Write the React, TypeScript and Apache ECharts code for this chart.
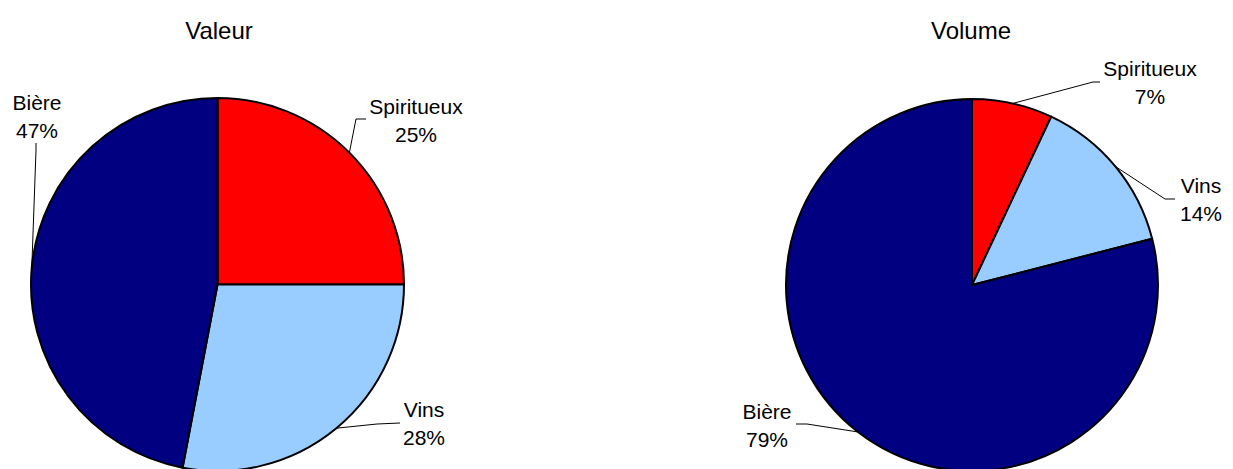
import React, { useEffect, useRef } from "react";
import * as echarts from "echarts";

const categories = ["Spiritueux", "Vins", "Bière"];
const valeurValues = [25, 28, 47];
const volumeValues = [7, 14, 79];
const titles = ["Valeur", "Volume"];
const colors = ["#FF0000", "#99CCFF", "#000080"];

// layout (style only)
const FONT = "'Liberation Sans', Arial, Helvetica, sans-serif";
const pieLayout = [
  { center: [217.5, 284.5], radius: 186.5, titleX: 214 },
  { center: [972, 285], radius: 186, titleX: 966 },
];
// label centers [x, y] and leader bend offsets, per pie, per slice
const labelPlacement = [
  [
    { x: 416, y: 120, end: [366, 119], bend: [356, 119] },
    { x: 424, y: 423, end: [400, 423], bend: [377, 424] },
    { x: 37, y: 116, end: [36, 143], bend: [36, 150] },
  ],
  [
    { x: 1150, y: 82, end: [1100, 82], bend: [1093, 82] },
    { x: 1201, y: 199, end: [1175, 199], bend: [1165, 199] },
    { x: 767, y: 425, end: [796, 424], bend: [807, 424] },
  ],
];

function edgePoint(values: number[], idx: number, center: number[], r: number) {
  const total = values.reduce((a, b) => a + b, 0);
  let before = 0;
  for (let i = 0; i < idx; i++) before += values[i];
  const mid = (before + values[idx] / 2) / total;
  const ang = mid * Math.PI * 2;
  return [center[0] + r * Math.sin(ang), center[1] - r * Math.cos(ang)];
}

export default function App() {
  const ref = useRef<HTMLDivElement>(null);
  useEffect(() => {
    if (!ref.current) return;
    const chart = echarts.init(ref.current, null, { renderer: "svg" });
    const seriesValues = [valeurValues, volumeValues];
    chart.setOption({
      animation: false,
      backgroundColor: "#ffffff",
      title: titles.map((t, i) => ({
        text: t,
        left: pieLayout[i].titleX,
        top: 13,
        textAlign: "center",
        textStyle: { fontFamily: FONT, fontSize: 24, fontWeight: "normal", color: "#000" },
      })),
      series: seriesValues.map((vals, si) => ({
        type: "pie",
        silent: true,
        center: pieLayout[si].center,
        radius: pieLayout[si].radius,
        startAngle: 90,
        clockwise: true,
        percentPrecision: 0,
        avoidLabelOverlap: false,
        itemStyle: { borderColor: "#000", borderWidth: 2 },
        emphasis: { disabled: true },
        label: {
          show: true,
          formatter: "{b}\n{d}%",
          fontFamily: FONT,
          fontSize: 21,
          lineHeight: 28,
          color: "#000",
          align: "center",
        },
        labelLine: { show: true, lineStyle: { color: "#000", width: 1 } },
        labelLayout: (params: any) => {
          const p = labelPlacement[si][params.dataIndex];
          const e = edgePoint(vals, params.dataIndex, pieLayout[si].center, pieLayout[si].radius);
          return {
            x: p.x,
            y: p.y,
            align: "center",
            verticalAlign: "middle",
            labelLinePoints: [e, p.bend, p.end],
          };
        },
        data: categories.map((c, i) => ({
          name: c,
          value: vals[i],
          itemStyle: { color: colors[i] },
        })),
      })),
    });
    return () => chart.dispose();
  }, []);
  return (
    <div
      ref={ref}
      style={{ position: "fixed", left: 0, top: 0, width: 1233, height: 469 }}
    />
  );
}
